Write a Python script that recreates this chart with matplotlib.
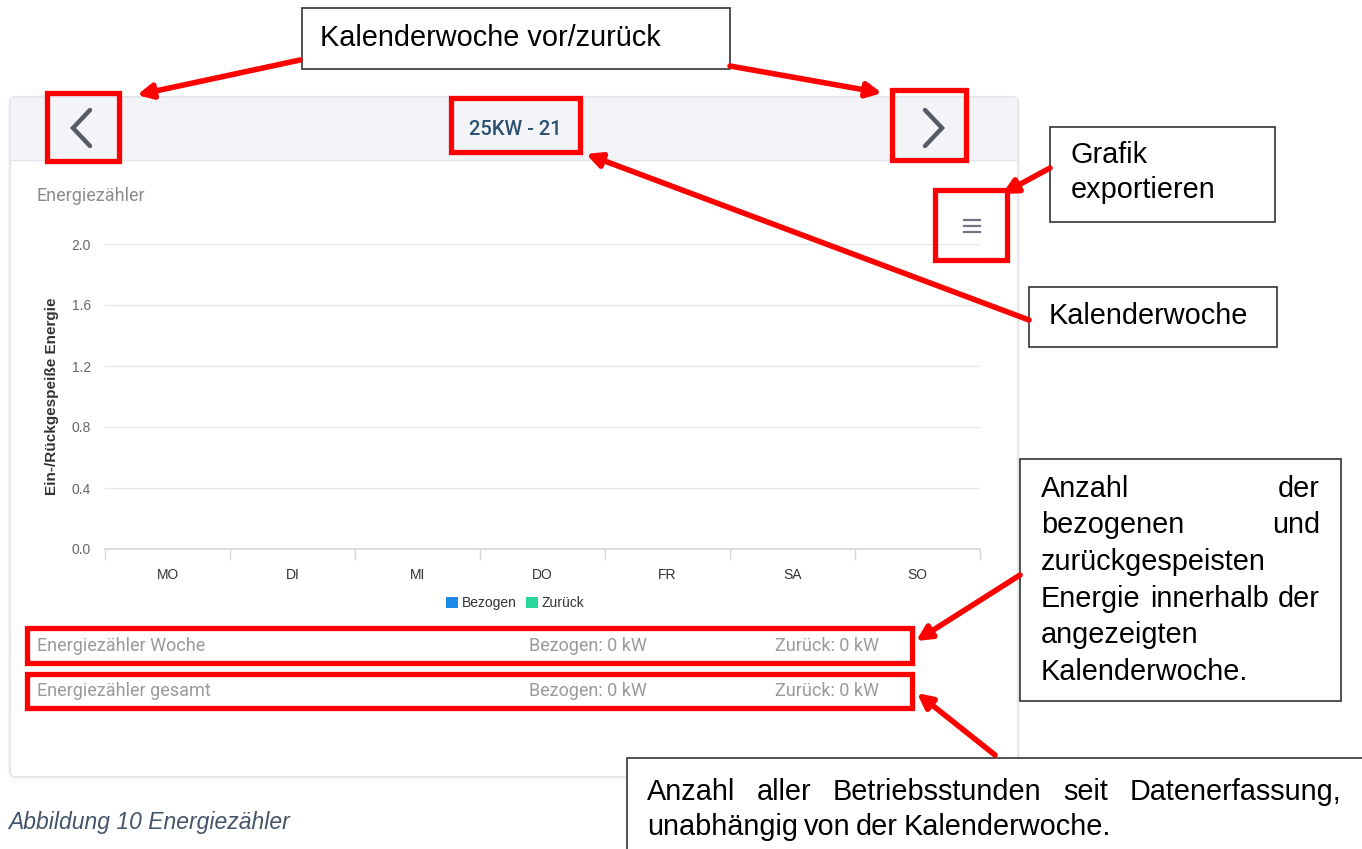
import numpy as np
import matplotlib.pyplot as plt
from matplotlib.patches import Rectangle, FancyBboxPatch, FancyArrowPatch

# chart data (empty week)
days = ['MO', 'DI', 'MI', 'DO', 'FR', 'SA', 'SO']
bezogen = [0, 0, 0, 0, 0, 0, 0]
zurueck = [0, 0, 0, 0, 0, 0, 0]
y_ticks = [0.0, 0.4, 0.8, 1.2, 1.6, 2.0]
week_label = '25KW - 21'
woche_bez, woche_zur = 0, 0
gesamt_bez, gesamt_zur = 0, 0

W, H = 1362, 849
RED = '#ff0000'
UI_GREY = '#9a9a9a'

fig = plt.figure(figsize=(W / 100, H / 100), dpi=100)

# background card (pixel coordinates)
bg = fig.add_axes([0, 0, 1, 1], zorder=0)
bg.set_xlim(0, W)
bg.set_ylim(H, 0)
bg.axis('off')
for i, a in enumerate([0.10, 0.07, 0.04]):
    bg.add_patch(FancyBboxPatch((10 - i, 97), 1008 + 2 * i, 681 + i * 2, boxstyle='round,pad=0,rounding_size=6',
                                fc='none', ec='#c8cad2', lw=1.5, alpha=a))
bg.add_patch(FancyBboxPatch((10, 97), 1008, 680, boxstyle='round,pad=0,rounding_size=6',
                            fc='white', ec='#e2e4ea', lw=1.2))
bg.add_patch(Rectangle((11, 98), 1006, 62, fc='#f3f4f8', ec='none'))
bg.plot([11, 1017], [160, 160], color='#e3e5eb', lw=1)

# navigation chevrons
bg.plot([90, 73, 90], [110, 128, 146], color='#565b66', lw=3.2, solid_capstyle='round', solid_joinstyle='miter')
bg.plot([925, 942, 925], [110, 128, 146], color='#565b66', lw=3.2, solid_capstyle='round', solid_joinstyle='miter')
bg.text(515, 129, week_label, ha='center', va='center', fontsize=14.5, color='#2c4f6e',
        family='Roboto', fontweight='medium')

bg.text(37, 196, 'Energiezähler', ha='left', va='center', fontsize=13, color='#8c8c8c', family='Roboto')

# export menu icon
for yy in [220, 226, 232]:
    bg.plot([964, 980], [yy, yy], color='#6f7480', lw=1.6)

# summary rows
rows = [('Energiezähler Woche', woche_bez, woche_zur, 646),
        ('Energiezähler gesamt', gesamt_bez, gesamt_zur, 691)]
for name, b, z, yy in rows:
    bg.text(37, yy, name, ha='left', va='center', fontsize=13, color=UI_GREY, family='Roboto')
    bg.text(529, yy, f'Bezogen: {b} kW', ha='left', va='center', fontsize=13, color=UI_GREY, family='Roboto')
    bg.text(775, yy, f'Zurück: {z} kW', ha='left', va='center', fontsize=13, color=UI_GREY, family='Roboto')

bg.text(8, 823, 'Abbildung 10 Energiezähler', ha='left', va='center', fontsize=16.5, color='#44546a',
        family='Liberation Sans', style='italic')

# the chart itself
ax = fig.add_axes([105 / W, 1 - 549 / H, 875 / W, 305 / H], zorder=1)
ax.patch.set_alpha(0)
x = np.arange(len(days))
ax.bar(x - 0.15, bezogen, 0.3, color='#1e88e5', label='Bezogen')
ax.bar(x + 0.15, zurueck, 0.3, color='#2bd69a', label='Zurück')
ax.set_xlim(-0.5, len(days) - 0.5)
ax.set_ylim(0, 2.0)
ax.set_yticks(y_ticks)
ax.set_yticklabels([f'{v:.1f}' for v in y_ticks], family='Liberation Sans')
ax.grid(axis='y', color='#e6e6e6', lw=1)
ax.set_axisbelow(True)
for s in ['top', 'right', 'left']:
    ax.spines[s].set_visible(False)
ax.spines['bottom'].set_color('#d6d6d6')
ax.spines['bottom'].set_linewidth(1.2)
ax.tick_params(axis='y', length=0, pad=10, labelsize=10, labelcolor='#666666')
ax.set_xticks(np.arange(-0.5, len(days), 1))
ax.set_xticklabels([])
ax.tick_params(axis='x', which='major', length=8, color='#d6d6d6', width=1)
ax.set_xticks(x, minor=True)
ax.set_xticklabels(days, minor=True, family='Liberation Sans')
ax.tick_params(axis='x', which='minor', length=0, pad=14, labelsize=10, labelcolor='#333333')
ax.set_ylabel('Ein-/Rückgespeiße Energie', fontsize=11, fontweight='bold', color='#333333',
              family='Liberation Sans', labelpad=9)
leg = ax.legend(loc='center', bbox_to_anchor=(0.469, -0.177), ncol=2, frameon=False,
                handlelength=0.85, handleheight=0.85, handletextpad=0.25, columnspacing=0.7,
                prop={'family': 'Liberation Sans', 'size': 10})
for t in leg.get_texts():
    t.set_color('#333333')

# annotation layer
ov = fig.add_axes([0, 0, 1, 1], zorder=3)
ov.set_xlim(0, W)
ov.set_ylim(H, 0)
ov.axis('off')
ov.patch.set_alpha(0)

red_boxes = [(47, 93, 119, 161), (451, 98, 580, 152), (892, 90, 966, 160),
             (935, 190, 1007, 260), (27, 628, 912, 663), (27, 674, 912, 708)]
for x0, y0, x1, y1 in red_boxes:
    ov.add_patch(Rectangle((x0, y0), x1 - x0, y1 - y0, fc='none', ec=RED, lw=3.8, joinstyle='miter'))

call_boxes = [(302, 8, 730, 69), (1050, 127, 1275, 222), (1029, 287, 1277, 347),
              (1020, 459, 1341, 701), (627, 758, 1370, 860)]
for x0, y0, x1, y1 in call_boxes:
    ov.add_patch(Rectangle((x0, y0), x1 - x0, y1 - y0, fc='white', ec='#333333', lw=1.2))

arrows = [((300, 60), (137, 95)), ((730, 66), (882, 93)), ((1050, 168), (1002, 194)),
          ((1029, 320), (586, 154)), ((1020, 575), (916, 641)), ((995, 755), (917, 693))]
for (xa, ya), (xb, yb) in arrows:
    ov.add_patch(FancyArrowPatch((xa, ya), (xb, yb), arrowstyle='-|>', mutation_scale=22,
                                 color=RED, lw=4, shrinkA=0, shrinkB=0))

CF = dict(family='Liberation Sans', fontsize=20.8, color='black', va='baseline')
ov.text(320, 46, 'Kalenderwoche vor/zurück', ha='left', **CF)
ov.text(1071, 163, 'Grafik', ha='left', **CF)
ov.text(1071, 198, 'exportieren', ha='left', **CF)
ov.text(1049, 324, 'Kalenderwoche', ha='left', **CF)

fig.canvas.draw()
renderer = fig.canvas.get_renderer()


def justify(words, x0, x1, y, full=True):
    texts = [ov.text(0, y, w, ha='left', **CF) for w in words]
    widths = [t.get_window_extent(renderer).width for t in texts]
    if full and len(words) > 1:
        gap = (x1 - x0 - sum(widths)) / (len(words) - 1)
    else:
        gap = 5.8
    xx = x0
    for t, w in zip(texts, widths):
        t.set_x(xx)
        xx += w + gap


justify(['Anzahl', 'der'], 1041, 1320, 497)
justify(['bezogenen', 'und'], 1041, 1320, 533)
justify(['zurückgespeisten'], 1041, 1320, 570, full=False)
justify(['Energie', 'innerhalb', 'der'], 1041, 1320, 607)
justify(['angezeigten'], 1041, 1320, 643, full=False)
justify(['Kalenderwoche.'], 1041, 1320, 680, full=False)
justify(['Anzahl', 'aller', 'Betriebsstunden', 'seit', 'Datenerfassung,'], 647, 1341, 800)
justify(['unabhängig', 'von', 'der', 'Kalenderwoche.'], 647, 1341, 835, full=False)

fig.savefig('out.png', dpi=100)
